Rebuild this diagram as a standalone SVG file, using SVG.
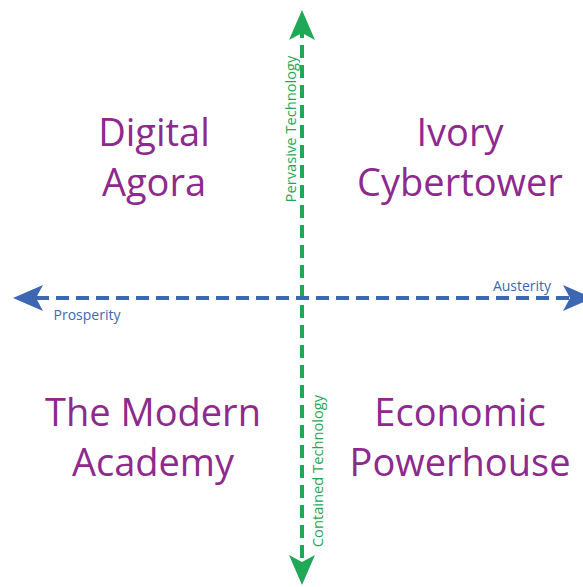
<svg xmlns="http://www.w3.org/2000/svg" width="583" height="587" viewBox="0 0 583 587">
<style>
.q{font-family:"Open Sans","Noto Sans","Liberation Sans",sans-serif;font-size:38px;fill:#8E2A8E;text-anchor:middle}
.ax{font-family:"Open Sans","Noto Sans","Liberation Sans",sans-serif;font-size:14px;text-anchor:middle}
.v{font-size:14.7px}
.g{fill:#1FA855}
.b{fill:#3D67B3}
</style>
<defs>
<marker id="ag" markerUnits="userSpaceOnUse" markerWidth="31" markerHeight="27" refX="7" refY="13" orient="auto-start-reverse" overflow="visible">
<path d="M0,0 L30,13 L0,26 L7,13 Z" fill="#1FA855"/>
</marker>
<marker id="ab" markerUnits="userSpaceOnUse" markerWidth="31" markerHeight="27" refX="7" refY="13" orient="auto-start-reverse" overflow="visible">
<path d="M0,0 L30,13 L0,26 L7,13 Z" fill="#3D67B3"/>
</marker>
</defs>
<rect width="583" height="587" fill="#fff"/>
<g id="connectors">
<path id="vaxis" d="M302,33 L302,562" stroke="#1FA855" stroke-width="4" stroke-dasharray="13 7" stroke-dashoffset="-12" fill="none" marker-start="url(#ag)" marker-end="url(#ag)"/>
<path id="haxis" d="M36,298 L570,298" stroke="#3D67B3" stroke-width="4" stroke-dasharray="13 7" fill="none" marker-start="url(#ab)" marker-end="url(#ab)"/>
</g>
<g id="axis-labels">
<text class="ax v g" transform="translate(296,129) rotate(-90)">Pervasive Technology</text>
<text class="ax v g" transform="translate(323,471) rotate(-90)">Contained Technology</text>
<text class="ax b" x="87" y="320">Prosperity</text>
<text class="ax b" x="522" y="291">Austerity</text>
</g>
<g id="digital-agora">
<text class="q" x="154" y="146">Digital</text>
<text class="q" x="154" y="196">Agora</text>
</g>
<g id="ivory-cybertower">
<text class="q" x="460" y="146">Ivory</text>
<text class="q" x="460" y="196">Cybertower</text>
</g>
<g id="modern-academy">
<text class="q" x="153" y="426">The Modern</text>
<text class="q" x="153" y="476">Academy</text>
</g>
<g id="economic-powerhouse">
<text class="q" x="460" y="426">Economic</text>
<text class="q" x="460" y="476">Powerhouse</text>
</g>
</svg>
